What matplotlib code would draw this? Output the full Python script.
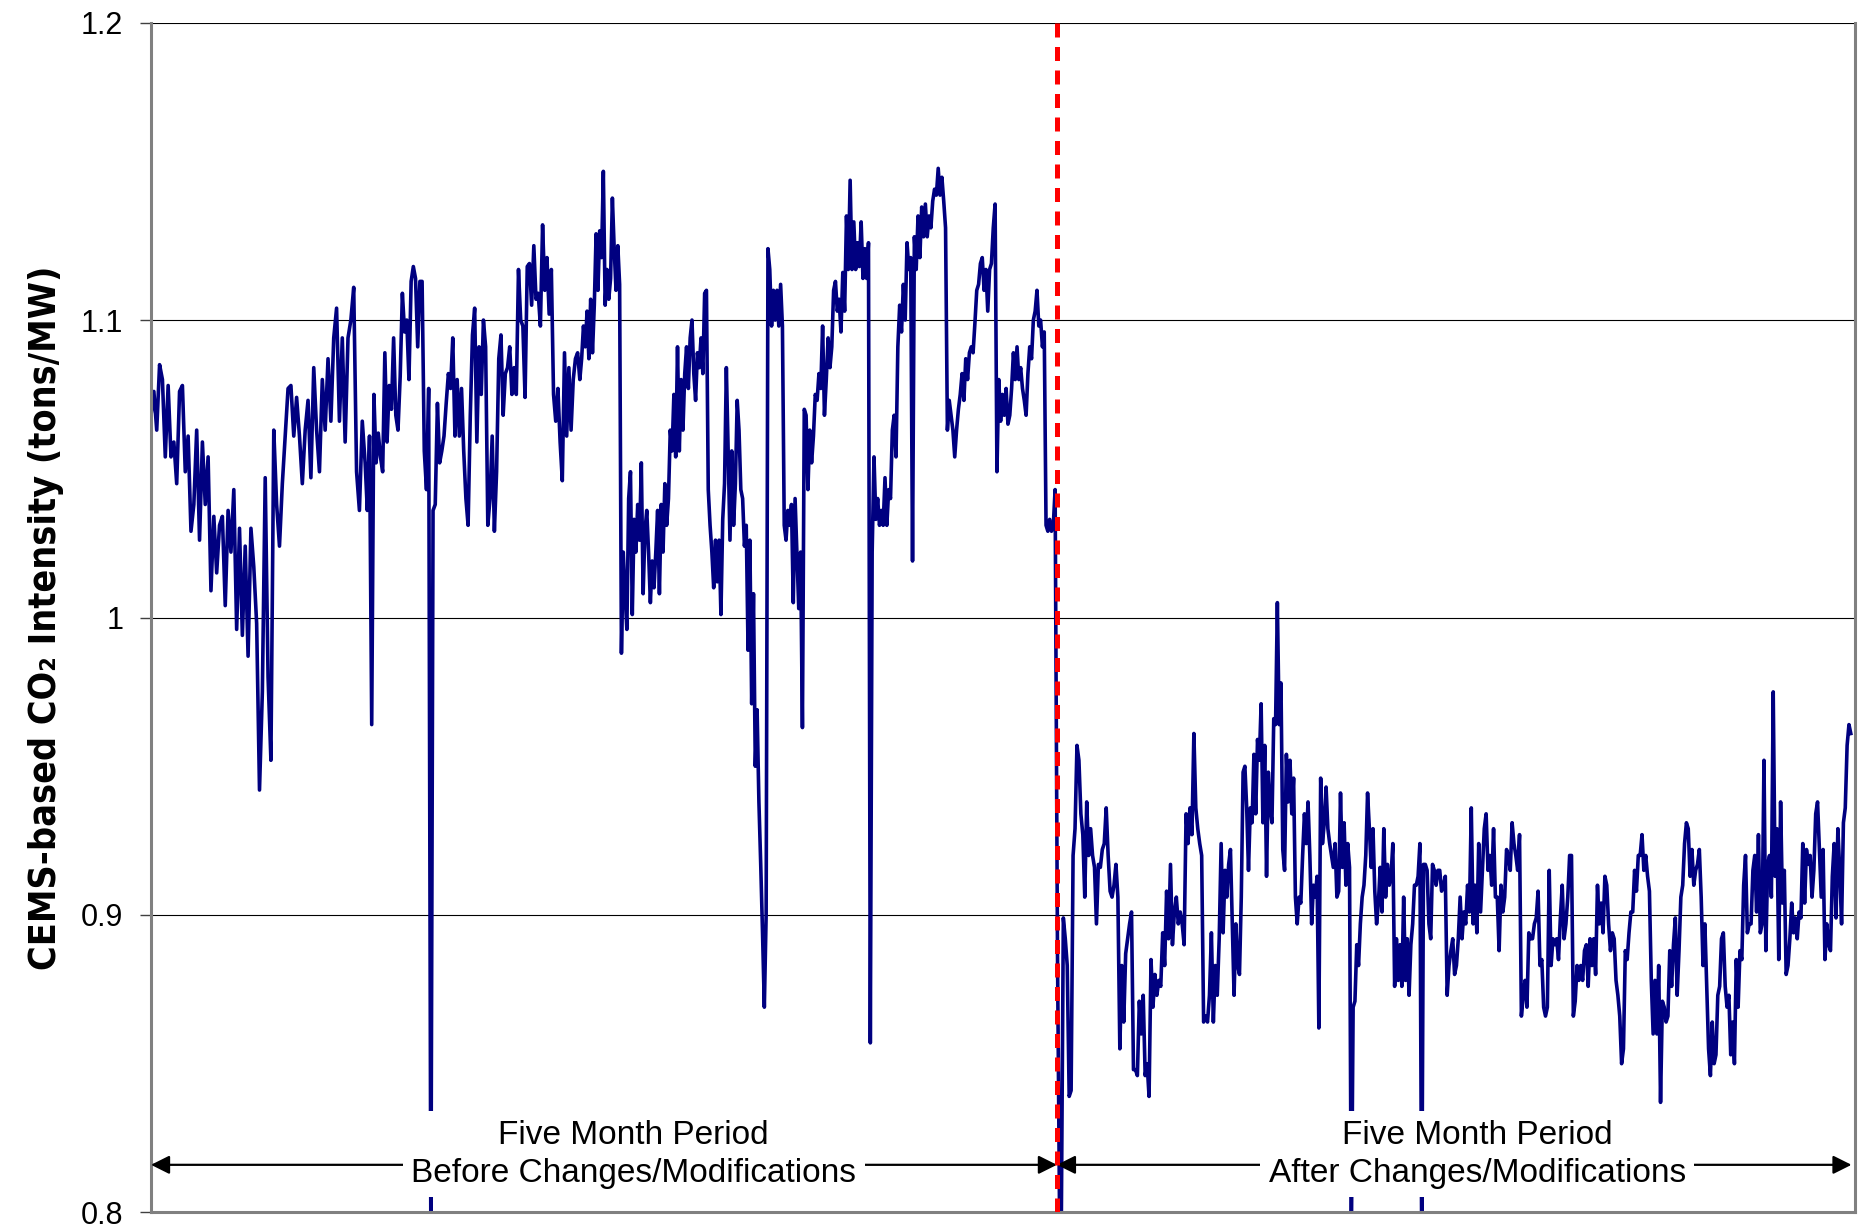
import numpy as np
import matplotlib
matplotlib.use("Agg")
import matplotlib.pyplot as plt

plt.rcParams['font.family'] = ['Liberation Sans', 'DejaVu Sans']

# CEMS-based CO2 intensity (tons/MW) in chunks.
# each chunk spans the given day range, readings are evenly spaced in it
before_1 = [1.068, 1.076, 1.063, 1.085, 1.080, 1.054, 1.078, 1.054, 1.059, 1.045, 1.076, 1.078,
            1.049, 1.061, 1.029, 1.038, 1.063, 1.026, 1.059, 1.038, 1.054, 1.009, 1.034, 1.015,
            1.031, 1.034, 1.004, 1.036, 1.022, 1.043, 0.996, 1.030, 0.994, 1.024, 0.987, 1.030,
            1.017, 0.998, 0.942, 0.975, 1.047, 0.980, 0.952, 1.063, 1.038, 1.024, 1.045, 1.061,
            1.077, 1.078, 1.061, 1.074, 1.061, 1.045, 1.063, 1.073, 1.047, 1.084, 1.063, 1.049,
            1.080, 1.063, 1.087, 1.066, 1.094, 1.104, 1.066, 1.094, 1.059, 1.094, 1.100, 1.111,
            1.049, 1.036, 1.066]
before_2 = [1.052, 1.036, 1.061, 0.964, 1.075, 1.052, 1.062, 1.054, 1.049, 1.089, 1.059, 1.078,
            1.070, 1.094, 1.068, 1.063, 1.081, 1.109, 1.096, 1.100, 1.080, 1.113, 1.118, 1.114,
            1.091, 1.113, 1.113, 1.056, 1.043, 1.077, 0.790, 1.036, 1.038, 1.072, 1.052, 1.056,
            1.061, 1.072, 1.082, 1.077, 1.094, 1.061, 1.080, 1.061, 1.077, 1.056, 1.040, 1.031,
            1.068, 1.095, 1.104, 1.059, 1.091, 1.075, 1.100, 1.091, 1.031, 1.040, 1.061, 1.029,
            1.049, 1.087, 1.095, 1.068, 1.082, 1.084, 1.091, 1.075, 1.084, 1.075, 1.117, 1.100,
            1.098, 1.074, 1.118, 1.119, 1.105, 1.125, 1.107, 1.109, 1.098, 1.132, 1.110, 1.121,
            1.102, 1.117, 1.075, 1.066, 1.077, 1.059, 1.046, 1.089, 1.061, 1.084, 1.063, 1.080,
            1.087, 1.089]
before_3 = [1.080, 1.087, 1.098, 1.091, 1.103, 1.087, 1.107, 1.089, 1.105, 1.129, 1.110, 1.130,
            1.121, 1.150, 1.105, 1.117, 1.107, 1.114, 1.141, 1.124, 1.110, 1.125, 1.112, 0.988,
            1.022, 1.008, 0.996, 1.040, 1.049, 1.001, 1.033, 1.022, 1.038, 1.026, 1.052, 1.008,
            1.029, 1.036, 1.022, 1.005, 1.019, 1.010, 1.022, 1.036, 1.008, 1.038, 1.022, 1.045,
            1.031, 1.040, 1.063, 1.056, 1.075, 1.054, 1.091, 1.056, 1.080, 1.063, 1.082, 1.091,
            1.077, 1.094, 1.100, 1.082, 1.073, 1.089, 1.084, 1.094, 1.082, 1.109, 1.110, 1.043,
            1.031, 1.022, 1.010, 1.026, 1.012, 1.026, 1.001, 1.033, 1.045, 1.084, 1.056, 1.026,
            1.056, 1.031, 1.045, 1.073, 1.063, 1.043, 1.040, 1.024, 1.031, 0.989, 1.026, 0.971,
            1.008, 0.950, 0.969, 0.938, 0.917, 0.894, 0.869, 0.900, 1.124, 1.117, 1.098, 1.110,
            1.100, 1.110, 1.098, 1.112, 1.098, 1.031, 1.026, 1.036, 1.031, 1.038, 1.005]
before_4 = [1.040, 1.022, 1.003, 1.022, 0.963, 1.070, 1.068, 1.043, 1.063, 1.052, 1.061, 1.075,
            1.073, 1.082, 1.077, 1.098, 1.068, 1.080, 1.094, 1.084, 1.091, 1.110, 1.113, 1.103,
            1.107, 1.096, 1.116, 1.103, 1.135, 1.117, 1.147, 1.117, 1.133, 1.117, 1.126, 1.118,
            1.133, 1.114, 1.124, 1.114, 1.126, 0.857, 1.022, 1.054, 1.033, 1.040, 1.031, 1.036,
            1.031, 1.047, 1.031, 1.043, 1.040, 1.063, 1.068, 1.054, 1.091, 1.105, 1.096, 1.112,
            1.100, 1.126, 1.117, 1.121, 1.019, 1.128, 1.117, 1.135, 1.121, 1.138, 1.128, 1.139,
            1.128, 1.135, 1.131, 1.140, 1.144, 1.142, 1.151, 1.142, 1.148, 1.140, 1.131, 1.063,
            1.073, 1.068, 1.063, 1.054, 1.063, 1.070, 1.075, 1.082, 1.073, 1.087, 1.080, 1.089,
            1.091, 1.089, 1.099, 1.110, 1.112, 1.119, 1.121, 1.110, 1.117, 1.103, 1.117, 1.119,
            1.131, 1.139, 1.049, 1.080, 1.066, 1.075, 1.068, 1.077, 1.065]
before_5 = [1.068, 1.077, 1.089, 1.080, 1.091, 1.080, 1.084, 1.077, 1.073, 1.068, 1.082, 1.091,
            1.087, 1.100, 1.103, 1.110, 1.098, 1.100, 1.091, 1.096, 1.031, 1.029, 1.033, 1.029,
            1.031, 1.043]

after_1 = [0.887, 0.804, 0.800, 0.899, 0.892, 0.883, 0.839, 0.841, 0.920, 0.929, 0.957, 0.952,
           0.934, 0.927, 0.906, 0.938, 0.920, 0.929, 0.920, 0.916, 0.897, 0.917, 0.916, 0.922,
           0.924, 0.936, 0.920, 0.908, 0.906, 0.910, 0.917, 0.906, 0.855, 0.883, 0.864, 0.887,
           0.892, 0.897, 0.901, 0.848, 0.848, 0.846, 0.871, 0.860, 0.873, 0.846, 0.850, 0.839,
           0.885, 0.869, 0.880, 0.873, 0.878, 0.876, 0.894, 0.883, 0.908, 0.892, 0.917, 0.890,
           0.901, 0.906, 0.897, 0.901, 0.897, 0.890, 0.934, 0.924, 0.936, 0.927, 0.961, 0.936,
           0.929, 0.924, 0.920, 0.864, 0.866, 0.864, 0.873, 0.894, 0.864, 0.883, 0.873, 0.892,
           0.924, 0.894]
after_2 = [0.915, 0.906, 0.917, 0.922, 0.897, 0.873, 0.897, 0.883, 0.880, 0.906, 0.948, 0.950,
           0.936, 0.915, 0.936, 0.931, 0.954, 0.934, 0.959, 0.952, 0.971, 0.931, 0.957, 0.913,
           0.948, 0.936, 0.931, 0.966, 0.964, 1.005, 0.964, 0.978, 0.922, 0.915, 0.954, 0.938,
           0.952, 0.934, 0.946, 0.906, 0.897, 0.906, 0.904, 0.920, 0.934, 0.924, 0.938, 0.920,
           0.897, 0.910, 0.906, 0.913, 0.862, 0.946, 0.924, 0.931, 0.943, 0.929, 0.924, 0.920,
           0.916, 0.924, 0.906, 0.908, 0.941, 0.916, 0.931, 0.910, 0.924, 0.916, 0.790, 0.869,
           0.871, 0.890, 0.883, 0.897, 0.906, 0.910, 0.920, 0.941, 0.929, 0.916, 0.929, 0.908,
           0.897, 0.904, 0.916, 0.901, 0.929, 0.906, 0.917, 0.910, 0.913, 0.924, 0.876, 0.892,
           0.878, 0.890, 0.876, 0.906, 0.878, 0.892, 0.873, 0.890, 0.897, 0.910, 0.910, 0.913,
           0.924, 0.790, 0.917, 0.917, 0.915, 0.897, 0.892, 0.917, 0.915, 0.910, 0.915]
after_3 = [0.915, 0.908, 0.910, 0.913, 0.873, 0.883, 0.888, 0.892, 0.880, 0.883, 0.892, 0.906,
           0.892, 0.901, 0.897, 0.910, 0.901, 0.936, 0.897, 0.910, 0.894, 0.924, 0.901, 0.915,
           0.929, 0.934, 0.915, 0.920, 0.910, 0.929, 0.906, 0.906, 0.888, 0.910, 0.901, 0.906,
           0.922, 0.920, 0.915, 0.931, 0.924, 0.920, 0.915, 0.927, 0.866, 0.873, 0.878, 0.869,
           0.894, 0.892, 0.892, 0.897, 0.899, 0.908, 0.883, 0.885, 0.869, 0.866, 0.869, 0.915,
           0.883, 0.892, 0.890, 0.892, 0.885, 0.899, 0.910, 0.892, 0.897, 0.906, 0.920, 0.920,
           0.866, 0.871, 0.883, 0.878, 0.883, 0.878, 0.888, 0.890, 0.876, 0.892, 0.883, 0.892,
           0.880, 0.910, 0.897, 0.904, 0.894, 0.913, 0.910, 0.897, 0.888, 0.894, 0.892, 0.878,
           0.873, 0.866, 0.850, 0.855, 0.888, 0.885, 0.894, 0.901, 0.901, 0.915, 0.908, 0.920,
           0.920, 0.927, 0.915, 0.920, 0.913, 0.908, 0.878, 0.860]
after_4 = [0.878, 0.860, 0.883, 0.837, 0.871, 0.869, 0.864, 0.866, 0.888, 0.876, 0.890, 0.899,
           0.873, 0.888, 0.906, 0.910, 0.924, 0.931, 0.929, 0.913, 0.922, 0.910, 0.915, 0.917,
           0.922, 0.906, 0.883, 0.897, 0.876, 0.855, 0.846, 0.864, 0.850, 0.853, 0.873, 0.876,
           0.892, 0.894, 0.876, 0.869, 0.873, 0.853, 0.864, 0.850, 0.885, 0.869, 0.888, 0.885,
           0.910, 0.920, 0.894, 0.897, 0.897, 0.915, 0.920, 0.901, 0.927, 0.894, 0.897, 0.952,
           0.888, 0.917, 0.920, 0.906, 0.975, 0.913, 0.929, 0.885, 0.938, 0.904, 0.915, 0.880,
           0.883, 0.892, 0.904, 0.894, 0.899, 0.892, 0.901, 0.899, 0.924, 0.904, 0.922, 0.917,
           0.920, 0.906, 0.915, 0.934, 0.938, 0.922, 0.906, 0.922, 0.885, 0.897, 0.890, 0.888,
           0.913, 0.924, 0.899, 0.929, 0.915, 0.897, 0.931, 0.936, 0.957, 0.964, 0.961]

# day ranges covered by each chunk (about 5 months either side of the change)
chunk_days = [(0.0, 37.7), (37.7, 75.5), (75.5, 113.4), (113.4, 151.2), (151.2, 159.5),
              (159.6, 189.1), (189.1, 226.9), (226.9, 264.8), (264.8, 299.6)]
change_day = 159.5
period_labels = ["Five Month Period\nBefore Changes/Modifications",
                 "Five Month Period\nAfter Changes/Modifications"]
label_days = [85.0, 233.5]
ytick_vals = [0.8, 0.9, 1.0, 1.1, 1.2]
ytick_labels = ["0.8", "0.9", "1", "1.1", "1.2"]

chunks = [before_1, before_2, before_3, before_4, before_5, after_1, after_2, after_3, after_4]
days = np.concatenate([np.linspace(a, b, len(c), endpoint=False)
                       for (a, b), c in zip(chunk_days, chunks)])
vals = np.concatenate(chunks)

fig = plt.figure(figsize=(18.62, 12.29), dpi=100)
ax = fig.add_axes([0.0811, 0.0135, 0.9151, 0.9681])

ax.plot(days, vals, color='#000080', lw=2.6, zorder=2)
ax.axvline(change_day, color='red', lw=3.6, ls=(0, (2.8, 1.9)), zorder=6)

# period arrows with labels sitting on them
arrow_y = 0.816
for a, b in [(0.0, change_day), (change_day, 299.4)]:
    ax.annotate('', xy=(a, arrow_y), xytext=(b, arrow_y),
                arrowprops=dict(arrowstyle='<|-|>', color='black', lw=1.6,
                                mutation_scale=28, shrinkA=0, shrinkB=0), zorder=4)
for d, txt in zip(label_days, period_labels):
    ax.text(d, 0.8195, txt, ha='center', va='center', fontsize=24, zorder=5,
            linespacing=1.3, bbox=dict(facecolor='white', edgecolor='none', pad=6))

ax.set_xlim(0, 300)
ax.set_ylim(0.8, 1.2)
ax.set_xticks([])
ax.set_yticks(ytick_vals)
ax.set_yticklabels(ytick_labels)
ax.tick_params(axis='y', length=8, width=1, color='#404040', labelsize=22, pad=12)
ax.yaxis.grid(True, color='black', lw=0.8)
ax.set_axisbelow(True)

for s in ['left', 'right', 'bottom']:
    ax.spines[s].set_color('#808080')
    ax.spines[s].set_linewidth(2.2)
ax.spines['top'].set_visible(False)

ax.set_ylabel('CEMS-based CO₂ Intensity (tons/MW)', fontsize=27, fontweight='bold',
              fontstretch='condensed', family=['DejaVu Sans'])
ax.yaxis.set_label_coords(-0.051, 0.5)

fig.savefig('out.png', dpi=100)
